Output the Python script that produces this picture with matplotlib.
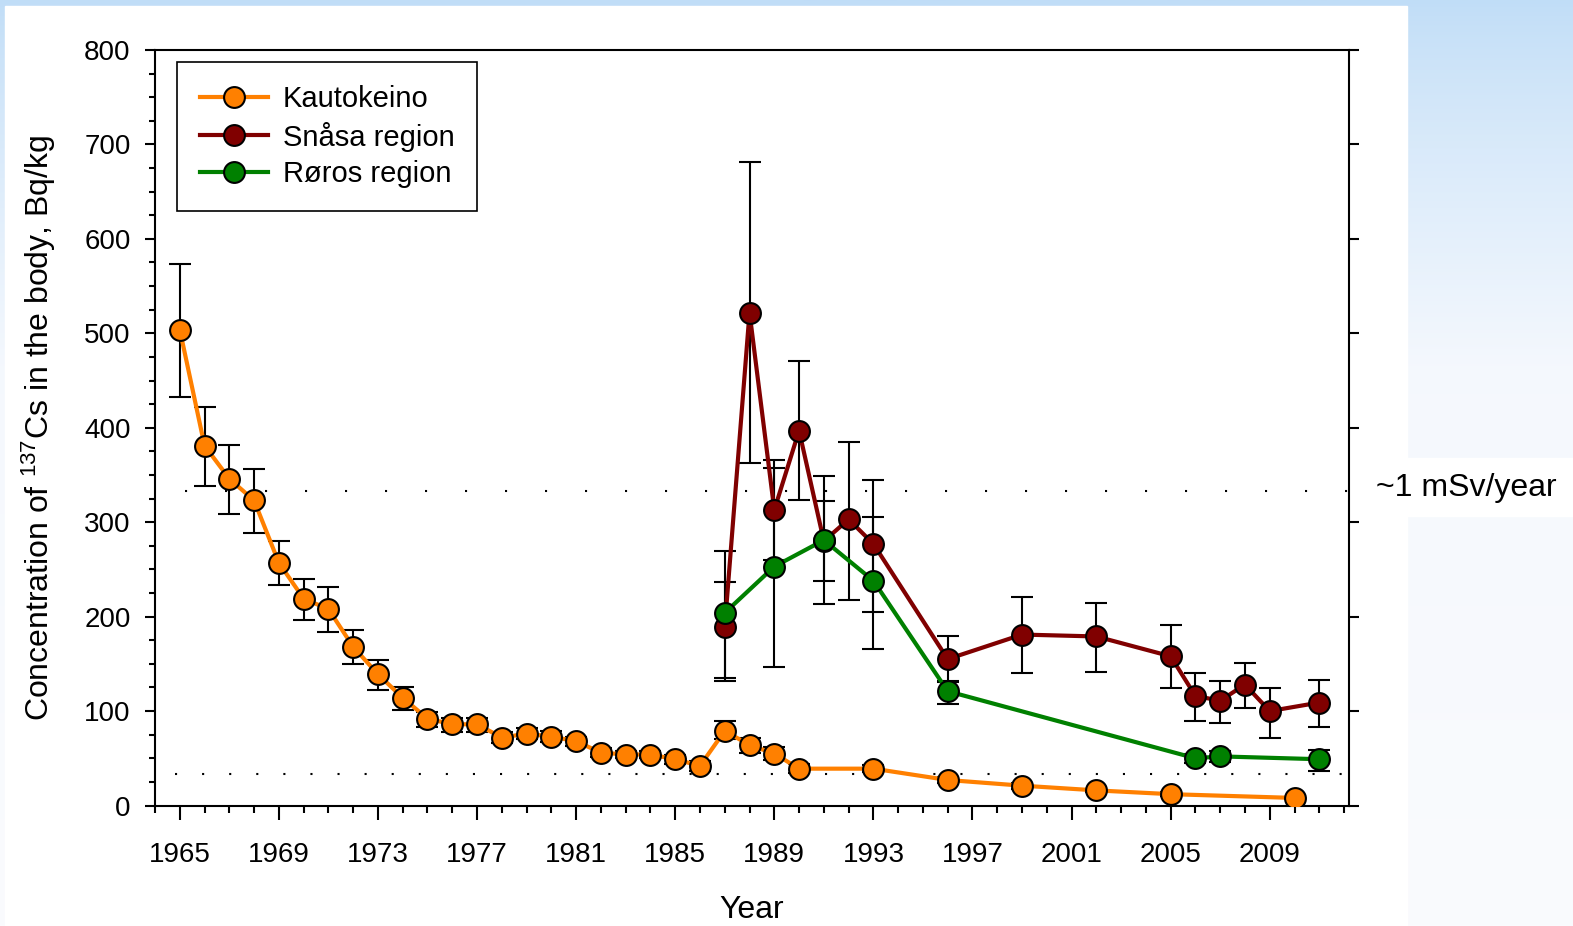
import matplotlib
matplotlib.use('Agg')
import matplotlib.pyplot as plt
import numpy as np
from matplotlib.patches import Rectangle
from matplotlib.ticker import MultipleLocator

plt.rcParams['font.family'] = ['Liberation Sans', 'DejaVu Sans']
plt.rcParams['mathtext.fontset'] = 'custom'
plt.rcParams['mathtext.rm'] = 'Liberation Sans'
plt.rcParams['mathtext.default'] = 'regular'

# Kautokeino
years_k = [1965, 1966, 1967, 1968, 1969, 1970, 1971, 1972, 1973, 1974, 1975, 1976,
           1977, 1978, 1979, 1980, 1981, 1982, 1983, 1984, 1985, 1986, 1987, 1988,
           1989, 1990, 1993, 1996, 1999, 2002, 2005, 2010]
cs_k = [504, 381, 346, 323, 257, 219, 208, 168, 139, 114, 92, 86,
        86, 72, 76, 73, 68, 56, 54, 54, 49, 42, 79, 64,
        55, 39, 39, 27, 21, 16, 12, 8]
err_k_lo = [71, 43, 37, 34, 23, 23, 24, 18, 17, 13, 9, 8,
            8, 6, 6, 6, 5, 5, 4, 4, 5, 5, 9, 8,
            7, 5, 4, 3, 3, 2, 2, 1]
err_k_hi = [69, 41, 36, 33, 23, 21, 23, 18, 15, 12, 7, 7,
            7, 6, 6, 6, 5, 5, 4, 4, 5, 5, 10, 7,
            7, 5, 4, 3, 3, 2, 2, 1]

# Snasa region
years_s = [1987, 1988, 1989, 1990, 1991, 1992, 1993, 1996, 1999, 2002, 2005,
           2006, 2007, 2008, 2009, 2011]
cs_s = [189, 522, 313, 397, 280, 303, 277, 155, 181, 179, 158,
        116, 111, 128, 100, 109]
err_s_lo = [54, 159, 53, 74, 42, 85, 72, 23, 41, 38, 34, 26, 24, 25, 28, 26]
err_s_hi = [81, 159, 53, 74, 42, 82, 68, 24, 40, 35, 33, 24, 21, 23, 24, 24]

# Roros region
years_r = [1987, 1989, 1991, 1993, 1996, 2006, 2007, 2011]
cs_r = [204, 253, 281, 238, 121, 50, 52, 49]
err_r_lo = [72, 106, 68, 72, 14, 5, 6, 12]
err_r_hi = [33, 104, 68, 68, 10, 5, 6, 10]

dose_1msv = 333
dose_01msv = 33.3

W, H = 1573, 926
fig = plt.figure(figsize=(W / 100, H / 100), dpi=100)

# background: blue gradient with a white panel
bg = fig.add_axes([0, 0, 1, 1], zorder=-10)
yy = np.linspace(0, 1, 400)
top = np.array([192, 221, 247]) / 255
bot = np.array([250, 251, 254]) / 255
t = np.clip(yy / 0.4, 0, 1) ** 0.8
t = 0.85 * t + 0.15 * yy
grad = top[None, :] * (1 - t[:, None]) + bot[None, :] * t[:, None]
bg.imshow(grad[:, None, :], aspect='auto', extent=[0, 1, 0, 1], origin='upper')
bg.add_patch(Rectangle((5 / W, 0), (1407 - 5) / W, 1 - 6 / H, color='white'))
bg.add_patch(Rectangle((1407 / W, 1 - 516 / H), (W - 1407) / W, 58 / H, color='white'))
bg.set_xlim(0, 1)
bg.set_ylim(0, 1)
bg.axis('off')

ax = fig.add_axes([155 / W, 1 - 805.5 / H, (1349 - 155) / W, (805.5 - 50) / H])
ax.set_facecolor('white')

orange = '#ff8000'
darkred = '#800000'
green = '#008000'

ekw = dict(fmt='none', ecolor='black', elinewidth=1.5, capsize=8, capthick=1.5, zorder=2)
ax.errorbar(years_k, cs_k, yerr=[err_k_lo, err_k_hi], **ekw)
ax.errorbar(years_s, cs_s, yerr=[err_s_lo, err_s_hi], **ekw)
ax.errorbar(years_r, cs_r, yerr=[err_r_lo, err_r_hi], **ekw)

mkw = dict(marker='o', markersize=15, markeredgecolor='black', markeredgewidth=1.5, lw=3)
ax.plot(years_k, cs_k, color=orange, markerfacecolor=orange, label='Kautokeino', zorder=3, **mkw)
ax.plot(years_s, cs_s, color=darkred, markerfacecolor=darkred, label='Snåsa region', zorder=4, **mkw)
ax.plot(years_r, cs_r, color=green, markerfacecolor=green, label='Røros region', zorder=5, **mkw)

# dose reference lines
ax.plot([1965.2, 2012.2], [dose_1msv, dose_1msv], color='black', lw=1.5,
        dashes=(1, 18.2), dash_capstyle='butt', zorder=1)
ax.plot([1964.8, 2011.9], [dose_01msv, dose_01msv], color='black', lw=1.5,
        dashes=(1, 12), dash_capstyle='butt', zorder=1)
fig.text(1376 / W, 1 - 488 / H, '~1 mSv/year', fontsize=23, va='center', ha='left')

ax.set_xlim(1964, 2012.2)
ax.set_ylim(0, 800)
ax.xaxis.set_major_locator(MultipleLocator(4))
ax.xaxis.set_minor_locator(MultipleLocator(1))
ax.yaxis.set_major_locator(MultipleLocator(100))
ax.yaxis.set_minor_locator(MultipleLocator(25))
ax.set_xticks(range(1965, 2012, 4))

ax.tick_params(axis='x', which='major', direction='out', length=10, width=1.5,
               labelsize=20, pad=16)
ax.tick_params(axis='x', which='minor', direction='out', length=5, width=1.5)
ax.tick_params(axis='y', which='major', direction='out', length=7.5, width=1.5,
               labelsize=20, pad=10, right=True)
ax.tick_params(axis='y', which='minor', direction='out', length=4, width=1.5)
for s in ax.spines.values():
    s.set_linewidth(1.5)

ax.set_xlabel('Year', fontsize=23, labelpad=20)
ax.set_ylabel('Concentration of $^{137}$Cs in the body, Bq/kg', fontsize=23, labelpad=19)

leg = ax.legend(loc='upper left', bbox_to_anchor=(0.0184, 0.984), borderaxespad=0,
                fontsize=21, fancybox=False, edgecolor='black', framealpha=1,
                handlelength=2.35, handletextpad=0.5, labelspacing=0.3,
                borderpad=0.78)
leg.get_frame().set_linewidth(1.2)

plt.savefig('out.png', dpi=100)
